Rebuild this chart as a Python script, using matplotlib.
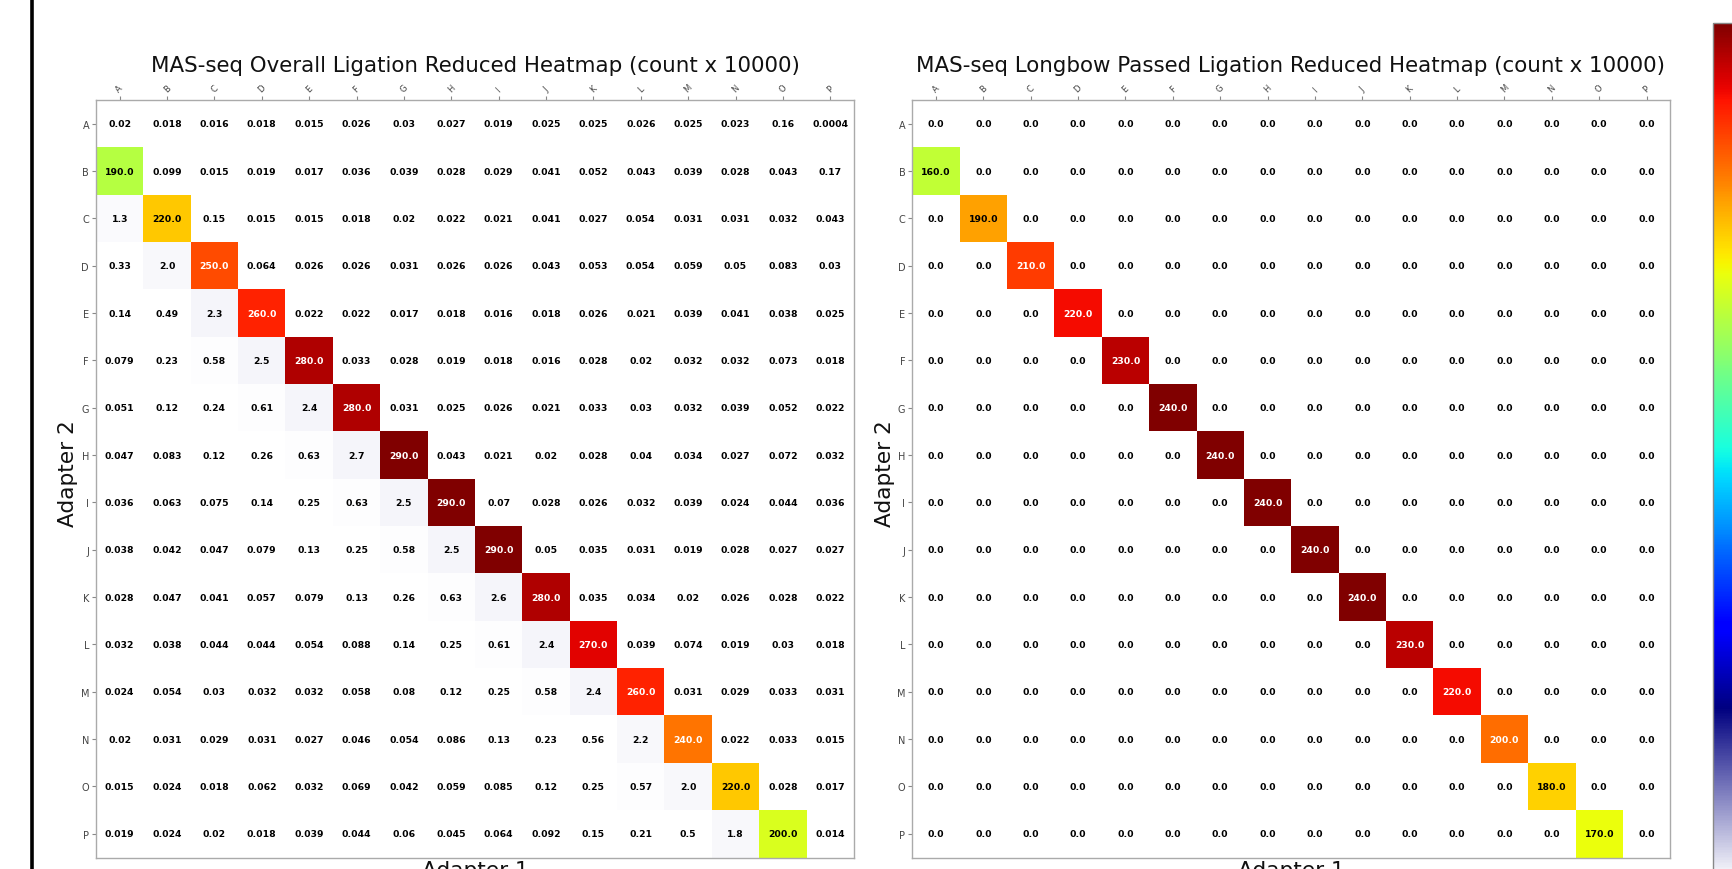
import numpy as np
import matplotlib
matplotlib.use("Agg")
import matplotlib.pyplot as plt
from matplotlib.colors import LinearSegmentedColormap, Normalize, to_rgba
from matplotlib.lines import Line2D
from matplotlib.cm import ScalarMappable

labels = list("ABCDEFGHIJKLMNOP")

overall = [
    [0.02, 0.018, 0.016, 0.018, 0.015, 0.026, 0.03, 0.027, 0.019, 0.025, 0.025, 0.026, 0.025, 0.023, 0.16, 0.0004],
    [190.0, 0.099, 0.015, 0.019, 0.017, 0.036, 0.039, 0.028, 0.029, 0.041, 0.052, 0.043, 0.039, 0.028, 0.043, 0.17],
    [1.3, 220.0, 0.15, 0.015, 0.015, 0.018, 0.02, 0.022, 0.021, 0.041, 0.027, 0.054, 0.031, 0.031, 0.032, 0.043],
    [0.33, 2.0, 250.0, 0.064, 0.026, 0.026, 0.031, 0.026, 0.026, 0.043, 0.053, 0.054, 0.059, 0.05, 0.083, 0.03],
    [0.14, 0.49, 2.3, 260.0, 0.022, 0.022, 0.017, 0.018, 0.016, 0.018, 0.026, 0.021, 0.039, 0.041, 0.038, 0.025],
    [0.079, 0.23, 0.58, 2.5, 280.0, 0.033, 0.028, 0.019, 0.018, 0.016, 0.028, 0.02, 0.032, 0.032, 0.073, 0.018],
    [0.051, 0.12, 0.24, 0.61, 2.4, 280.0, 0.031, 0.025, 0.026, 0.021, 0.033, 0.03, 0.032, 0.039, 0.052, 0.022],
    [0.047, 0.083, 0.12, 0.26, 0.63, 2.7, 290.0, 0.043, 0.021, 0.02, 0.028, 0.04, 0.034, 0.027, 0.072, 0.032],
    [0.036, 0.063, 0.075, 0.14, 0.25, 0.63, 2.5, 290.0, 0.07, 0.028, 0.026, 0.032, 0.039, 0.024, 0.044, 0.036],
    [0.038, 0.042, 0.047, 0.079, 0.13, 0.25, 0.58, 2.5, 290.0, 0.05, 0.035, 0.031, 0.019, 0.028, 0.027, 0.027],
    [0.028, 0.047, 0.041, 0.057, 0.079, 0.13, 0.26, 0.63, 2.6, 280.0, 0.035, 0.034, 0.02, 0.026, 0.028, 0.022],
    [0.032, 0.038, 0.044, 0.044, 0.054, 0.088, 0.14, 0.25, 0.61, 2.4, 270.0, 0.039, 0.074, 0.019, 0.03, 0.018],
    [0.024, 0.054, 0.03, 0.032, 0.032, 0.058, 0.08, 0.12, 0.25, 0.58, 2.4, 260.0, 0.031, 0.029, 0.033, 0.031],
    [0.02, 0.031, 0.029, 0.031, 0.027, 0.046, 0.054, 0.086, 0.13, 0.23, 0.56, 2.2, 240.0, 0.022, 0.033, 0.015],
    [0.015, 0.024, 0.018, 0.062, 0.032, 0.069, 0.042, 0.059, 0.085, 0.12, 0.25, 0.57, 2.0, 220.0, 0.028, 0.017],
    [0.019, 0.024, 0.02, 0.018, 0.039, 0.044, 0.06, 0.045, 0.064, 0.092, 0.15, 0.21, 0.5, 1.8, 200.0, 0.014],
]

# Longbow passed: all zero except the sub-diagonal (row i+1, col i)
passed_subdiag = [160.0, 190.0, 210.0, 220.0, 230.0, 240.0, 240.0, 240.0,
                  240.0, 240.0, 230.0, 220.0, 200.0, 180.0, 170.0]

title_left = "MAS-seq Overall Ligation Reduced Heatmap (count x 10000)"
title_right = "MAS-seq Longbow Passed Ligation Reduced Heatmap (count x 10000)"

overall = np.array(overall, dtype=float)
passed = np.zeros((16, 16))
for i, v in enumerate(passed_subdiag):
    passed[i + 1, i] = v

# colormap: white -> navy, then jet
jet = plt.get_cmap("jet")
stops = [(0.0, (1, 1, 1, 1))]
for t in np.linspace(0, 1, 64):
    stops.append((0.2 + 0.8 * t, jet(t)))
cmap = LinearSegmentedColormap.from_list("white_jet", stops, N=512)

W, H = 1733, 870
fig = plt.figure(figsize=(W / 100, H / 100), dpi=100)


def fx(px):
    return px / W


def fy(py):
    return 1 - py / H


ax_top, ax_bot = 101, 858.5
ax_w = 758
axL = fig.add_axes([fx(96), fy(ax_bot), fx(ax_w), (ax_bot - ax_top) / H])
axR = fig.add_axes([fx(912.3), fy(ax_bot), fx(ax_w), (ax_bot - ax_top) / H])


def rel_lum(c):
    rgb = np.array(to_rgba(c)[:3])
    rgb = np.where(rgb <= 0.03928, rgb / 12.92, ((rgb + 0.055) / 1.055) ** 2.4)
    return rgb.dot([0.2126, 0.7152, 0.0722])


def draw(ax, data, title, title_x, ylabel_x):
    norm = Normalize(vmin=data.min(), vmax=data.max())
    mesh = ax.pcolormesh(np.arange(17), np.arange(17), data, cmap=cmap, norm=norm)
    ax.set_xlim(0, 16)
    ax.set_ylim(16, 0)
    for i in range(16):
        for j in range(16):
            v = data[i, j]
            col = cmap(norm(v))
            tc = "#000000" if rel_lum(col) > 0.408 else "#ffffff"
            ax.text(j + 0.5, i + 0.5, str(v), ha="center", va="center",
                    fontsize=6.7, fontweight="bold", color=tc)
    ax.xaxis.tick_top()
    ax.set_xticks(np.arange(16) + 0.5)
    ax.set_xticklabels(labels, rotation=45, fontsize=6, color="#444444")
    ax.set_yticks(np.arange(16) + 0.5)
    ax.set_yticklabels(labels, rotation=0, fontsize=7, color="#444444")
    ax.tick_params(axis="both", length=3, width=0.8, color="#888888", pad=2)
    for s in ax.spines.values():
        s.set_color("#aaaaaa")
        s.set_linewidth(1.0)
    fig.text(fx(title_x), fy(72.3), title, ha="center", va="baseline",
             fontsize=15.4, color="#111111")
    ax.set_ylabel("Adapter 2", fontsize=15.6, color="#111111")
    ax.yaxis.label.set_va("center")
    ax.yaxis.label.set_ha("center")
    ax.yaxis.set_label_coords((ylabel_x - ax.get_position().x0 * W) / ax_w, 0.5 - (474 - (ax_top + ax_bot) / 2) / (ax_bot - ax_top))
    ax.set_xlabel("Adapter 1", fontsize=15.6, color="#111111")
    ax.xaxis.set_label_position("bottom")
    ax.xaxis.label.set_va("baseline")
    ax.xaxis.set_label_coords(0.5, -(877 - ax_bot) / (ax_bot - ax_top))
    return mesh


draw(axL, overall, title_left, 475, 68)
mR = draw(axR, passed, title_right, 1291, 885)

# colorbar (partly outside the cropped figure)
cax = fig.add_axes([fx(1713.5), fy(881), fx(30), (881 - 24.3) / H])
cb = fig.colorbar(mR, cax=cax)
cb.outline.set_edgecolor("#888888")
cb.outline.set_linewidth(1.0)
cax.tick_params(length=0)
cax.set_yticklabels([])

# black vertical line at the left edge
fig.add_artist(Line2D([fx(31.8), fx(31.8)], [0, 1], transform=fig.transFigure,
                      color="black", linewidth=2.6))

fig.savefig("out.png", dpi=100)
